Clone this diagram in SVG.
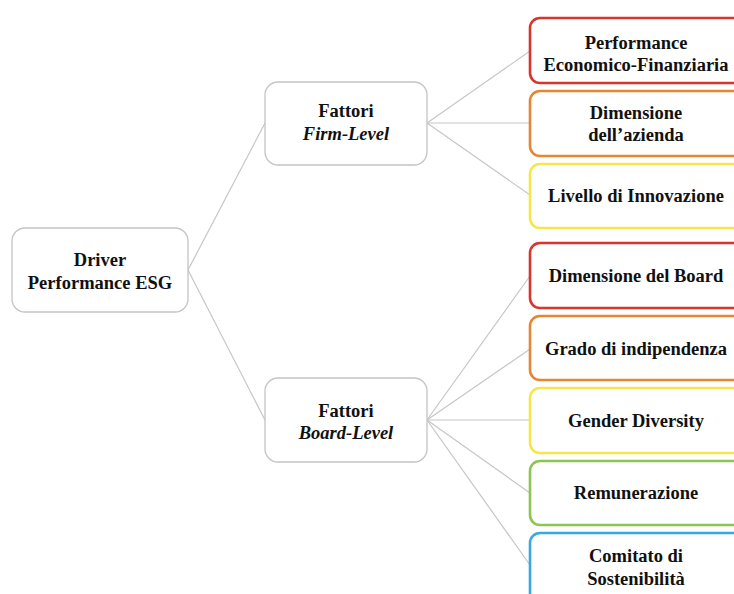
<svg xmlns="http://www.w3.org/2000/svg" width="734" height="594" viewBox="0 0 734 594">
  <style>
    text { font-family: "Liberation Serif", "Times New Roman", serif; font-weight: bold; font-size: 18.5px; fill: #111; text-anchor: middle; }
    .it { font-style: italic; }
    .grey { fill: #fff; stroke: #c4c4c4; stroke-width: 1.3; }
    .leaf { fill: #fff; stroke-width: 2.6; }
    .red { stroke: #d8352d; }
    .orange { stroke: #e58632; }
    .yellow { stroke: #f6e64a; }
    .green { stroke: #8dc452; }
    .blue { stroke: #38a9e1; }
    #connectors line { stroke: #c6c6c6; stroke-width: 1.2; }
  </style>
  <rect width="734" height="594" fill="#fff"/>

  <g id="connectors">
    <line x1="188" y1="270" x2="265" y2="123"/>
    <line x1="188" y1="270" x2="265" y2="420"/>
    <line x1="427" y1="123" x2="530" y2="51"/>
    <line x1="427" y1="123" x2="530" y2="123"/>
    <line x1="427" y1="123" x2="530" y2="195"/>
    <line x1="427" y1="420" x2="530" y2="276"/>
    <line x1="427" y1="420" x2="530" y2="349"/>
    <line x1="427" y1="420" x2="530" y2="420"/>
    <line x1="427" y1="420" x2="530" y2="493"/>
    <line x1="427" y1="420" x2="530" y2="565"/>
  </g>

  <g id="root">
    <rect class="grey" x="12" y="228" width="176" height="84" rx="13"/>
    <text x="100" y="266">Driver</text>
    <text x="100" y="289">Performance ESG</text>
  </g>

  <g id="firm-level">
    <rect class="grey" x="265" y="82" width="162" height="83" rx="13"/>
    <text x="346" y="117">Fattori</text>
    <text x="346" y="140" class="it">Firm-Level</text>
  </g>

  <g id="board-level">
    <rect class="grey" x="265" y="378" width="162" height="84" rx="13"/>
    <text x="346" y="417">Fattori</text>
    <text x="346" y="439" class="it">Board-Level</text>
  </g>

  <g id="performance-ef">
    <rect class="leaf red" x="530" y="18" width="220" height="65" rx="10"/>
    <text x="636" y="49">Performance</text>
    <text x="636" y="71">Economico-Finanziaria</text>
  </g>
  <g id="dimensione-azienda">
    <rect class="leaf orange" x="530" y="91" width="220" height="65" rx="10"/>
    <text x="636" y="119">Dimensione</text>
    <text x="636" y="141">dell’azienda</text>
  </g>
  <g id="innovazione">
    <rect class="leaf yellow" x="530" y="164" width="220" height="64" rx="10"/>
    <text x="636" y="202">Livello di Innovazione</text>
  </g>

  <g id="dimensione-board">
    <rect class="leaf red" x="530" y="243" width="220" height="65" rx="10"/>
    <text x="636" y="282">Dimensione del Board</text>
  </g>
  <g id="indipendenza">
    <rect class="leaf orange" x="530" y="316" width="220" height="64" rx="10"/>
    <text x="636" y="355">Grado di indipendenza</text>
  </g>
  <g id="gender-diversity">
    <rect class="leaf yellow" x="530" y="388" width="220" height="65" rx="10"/>
    <text x="636" y="427">Gender Diversity</text>
  </g>
  <g id="remunerazione">
    <rect class="leaf green" x="530" y="461" width="220" height="64" rx="10"/>
    <text x="636" y="499">Remunerazione</text>
  </g>
  <g id="comitato">
    <rect class="leaf blue" x="530" y="533" width="220" height="70" rx="10"/>
    <text x="636" y="562">Comitato di</text>
    <text x="636" y="585">Sostenibilità</text>
  </g>
</svg>
